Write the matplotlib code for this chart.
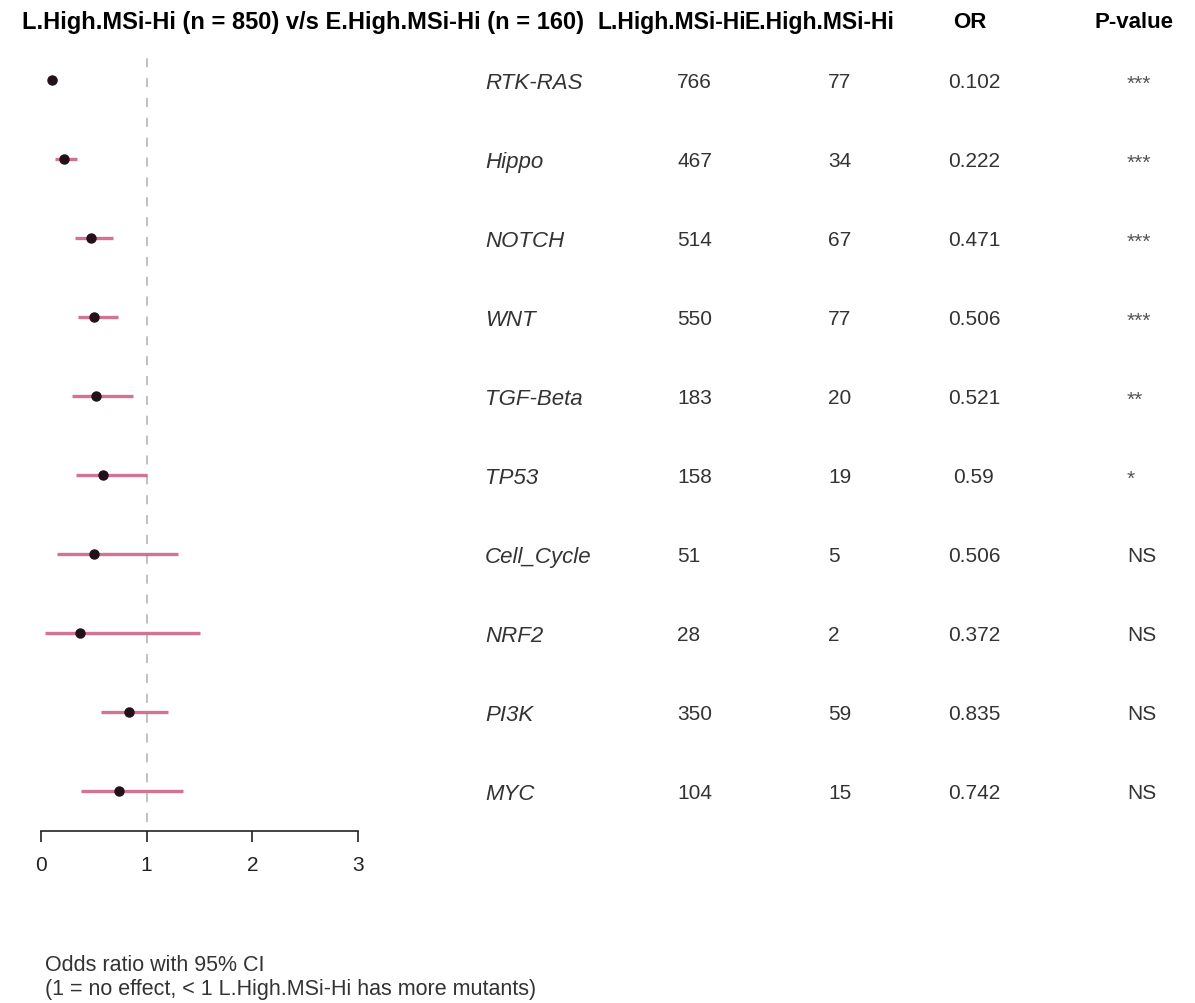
import matplotlib.pyplot as plt
from matplotlib.transforms import blended_transform_factory, offset_copy

plt.rcParams['font.family'] = ['Liberation Sans', 'DejaVu Sans']

genes = ["RTK-RAS", "Hippo", "NOTCH", "WNT", "TGF-Beta", "TP53",
         "Cell_Cycle", "NRF2", "PI3K", "MYC"]
n_late = [766, 467, 514, 550, 183, 158, 51, 28, 350, 104]
n_early = [77, 34, 67, 77, 20, 19, 5, 2, 59, 15]
odds = [0.102, 0.222, 0.471, 0.506, 0.521, 0.59, 0.506, 0.372, 0.835, 0.742]
ci_low = [0.07, 0.13, 0.32, 0.35, 0.29, 0.33, 0.15, 0.04, 0.57, 0.38]
ci_high = [0.15, 0.34, 0.68, 0.73, 0.87, 1.0, 1.30, 1.50, 1.20, 1.34]
pvals = ["***", "***", "***", "***", "**", "*", "NS", "NS", "NS", "NS"]

W, H = 1195, 1004
fig = plt.figure(figsize=(W / 100, H / 100), dpi=100)

# axes: x 0..3 at px 41..358, bottom at px 832, top at px 45
ax = fig.add_axes([41 / W, 1 - 832 / H, 317 / W, (832 - 45) / H])
nrow = len(genes)
ys = list(range(nrow, 0, -1))
ax.set_xlim(0, 3)
ax.set_ylim(1 - 40 / 79, nrow + 36 / 79)

ax.axvline(1, color='#bbbbbb', lw=1.3, ls=(0, (5, 6)), ymin=0.012, ymax=0.985)
for y, lo, hi, o in zip(ys, ci_low, ci_high, odds):
    ax.plot([lo, hi], [y, y], color='#c8507a', lw=2.4, alpha=0.8,
            solid_capstyle='butt', clip_on=False)
    ax.plot(o, y, 'o', color='#24101a', ms=6.5, clip_on=False)

for s in ['top', 'right', 'left']:
    ax.spines[s].set_visible(False)
ax.spines['bottom'].set_color('#222222')
ax.spines['bottom'].set_linewidth(1.2)
ax.set_yticks([])
ax.set_xticks([0, 1, 2, 3])
ax.tick_params(axis='x', length=8, width=1.2, color='#222222',
               labelsize=15, labelcolor='#222222', pad=9)

tr = blended_transform_factory(fig.transFigure, ax.transData)
tc = '#333333'


def cell(x, y, s, size, ha='left', **kw):
    # baseline placed so that cap height is centred on the row
    t = offset_copy(tr, fig=fig, y=-0.716 * size * 100 / 72 / 2, units='dots')
    ax.text(x / W, y, s, transform=t, fontsize=size, color=tc,
            va='baseline', ha=ha, **kw)


for y, g, a, b, o, p in zip(ys, genes, n_late, n_early, odds, pvals):
    cell(485, y, g, 16, style='italic')
    cell(677, y, str(a), 15)
    cell(828, y, str(b), 15)
    cell(974, y, str(o), 15, ha='center')
    if p == "NS":
        cell(1127, y, p, 15)
    else:
        t = offset_copy(tr, fig=fig, y=-9, units='dots')
        ax.text(1127 / W, y, p, transform=t, fontsize=15, color='#555555',
                va='baseline', ha='left')

hy = 1 - 22 / H
fig.text(22 / W, hy, "L.High.MSi-Hi (n = 850) v/s E.High.MSi-Hi (n = 160)",
         fontsize=17, fontweight='bold', va='center', ha='left')
fig.text(598 / W, hy, "L.High.MSi-Hi", fontsize=16.5, fontweight='bold',
         va='center', ha='left')
fig.text(745 / W, hy, "E.High.MSi-Hi", fontsize=16.5, fontweight='bold',
         va='center', ha='left')
fig.text(970 / W, hy, "OR", fontsize=16, fontweight='bold',
         va='center', ha='center')
fig.text(1134 / W, hy, "P-value", fontsize=16, fontweight='bold',
         va='center', ha='center')

fig.text(45 / W, 1 - 966 / H, "Odds ratio with 95% CI", fontsize=15.5,
         color=tc, va='center', ha='left')
fig.text(45 / W, 1 - 990 / H,
         "(1 = no effect, < 1 L.High.MSi-Hi has more mutants)", fontsize=15.5,
         color=tc, va='center', ha='left')

fig.savefig("out.png", dpi=100)
